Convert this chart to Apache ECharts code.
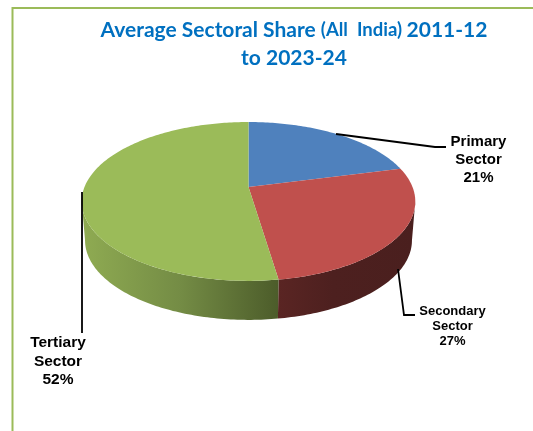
<!DOCTYPE html>
<html><head><meta charset="utf-8">
<style>html,body{margin:0;padding:0;background:#fff}#c{width:533px;height:431px}</style>
<script src="https://cdn.jsdelivr.net/npm/echarts@6/dist/echarts.min.js"></script>
</head><body><div id="c"></div>
<script>
const categories = ['Primary Sector', 'Secondary Sector', 'Tertiary Sector'];
const shares = [21.0, 26.6, 52.4];
const topColors = ['#4f81bd', '#c0504d', '#9bbb59'];
const wallStops = [
  [[0, '#3a5a80'], [1, '#2a4060']],
  [[0, '#5a2523'], [0.4, '#4d201f'], [1, '#4a1f1e']],
  [[0, '#8fab52'], [0.5, '#748c45'], [1, '#4c5c2a']]
];
const labelLayout = [
  {x: 478.5, y: 160, size: 15, line: 18, lead: [[336, 134], [435, 147], [446, 147]]},
  {x: 452.5, y: 326, size: 13, line: 15, lead: [[398, 269], [404, 315], [415, 315]]},
  {x: 58, y: 361.5, size: 15.5, line: 18.5, lead: [[82, 192], [82, 333]]}
];
const pie = {cx: 248.5, cy: 187, a: 164, b: 76.8, k: 0.182, depth: 39, shrink: 0.98};

function project(deg, bottom) {
  const t = deg * Math.PI / 180, X = Math.sin(t), Y = -Math.cos(t);
  const s = 1 / (1 - pie.k * Y);
  const f = bottom ? pie.shrink : 1;
  return [pie.cx + pie.a * X * s * f, pie.cy + pie.b * Y * s + (bottom ? pie.depth : 0)];
}
const total = shares.reduce((p, v) => p + v, 0);
function range(i) {
  let before = 0;
  for (let j = 0; j < i; j++) before += shares[j];
  return [before / total * 360, (before + shares[i]) / total * 360];
}
function arc(a0, a1, bottom) {
  const pts = [], n = Math.max(2, Math.ceil(Math.abs(a1 - a0)));
  for (let i = 0; i <= n; i++) pts.push(project(a0 + (a1 - a0) * i / n, bottom));
  return pts;
}
const tangent = Math.acos(-pie.k) * 180 / Math.PI;

function renderWall(params, api) {
  const i = params.dataIndex;
  const [r0, r1] = range(i);
  const a0 = Math.max(r0, tangent), a1 = Math.min(r1, 360 - tangent);
  if (a1 <= a0) return {type: 'group', children: []};
  const pts = arc(a0, a1, false).concat(arc(a1, a0, true));
  const xs = pts.map(p => p[0]);
  const x0 = Math.min.apply(null, xs), x1 = Math.max.apply(null, xs);
  return {
    type: 'polygon',
    shape: {points: pts},
    style: {fill: new echarts.graphic.LinearGradient(x0, 0, x1, 0,
      wallStops[i].map(s => ({offset: s[0], color: s[1]})), true)}
  };
}
function renderTop(params, api) {
  const i = params.dataIndex;
  const [a0, a1] = range(i);
  return {
    type: 'polygon',
    shape: {points: [[pie.cx, pie.cy]].concat(arc(a0, a1, false))},
    style: {fill: topColors[i]}
  };
}
function renderLabel(params, api) {
  const i = params.dataIndex, l = labelLayout[i];
  const words = categories[i].split(' ');
  return {
    type: 'group',
    children: [
      {type: 'polyline', shape: {points: l.lead}, style: {stroke: '#000', lineWidth: 1.8, fill: null}},
      {type: 'text', x: l.x, y: l.y, style: {
        text: words[0] + '\n' + words[1] + '\n' + Math.round(api.value(0)) + '%',
        fill: '#000', align: 'center', verticalAlign: 'middle',
        font: 'bold ' + l.size + 'px "Liberation Sans"', lineHeight: l.line
      }}
    ]
  };
}
const chart = echarts.init(document.getElementById('c'), null, {renderer: 'canvas'});
chart.setOption({
  animation: false,
  backgroundColor: '#fff',
  title: {
    text: '{a|Average Sectoral Share }{b|(All  India) }{a|2011-12}\n{a|to 2023-24}',
    left: 289, top: 11, textAlign: 'center',
    textStyle: {
      rich: {
        a: {fontFamily: 'Lato', fontWeight: 'bold', fontSize: 21, color: '#0070c0', lineHeight: 28},
        b: {fontFamily: 'Lato', fontWeight: 'bold', fontSize: 18.5, color: '#0070c0', lineHeight: 28}
      }
    }
  },
  graphic: [{
    type: 'polyline', z: 0,
    shape: {points: [[533, 8], [12.5, 8], [12.5, 431]]},
    style: {stroke: '#9bbb59', lineWidth: 2, fill: null}
  }],
  series: [
    {type: 'custom', coordinateSystem: 'none', z: 2, renderItem: renderWall, data: shares},
    {type: 'custom', coordinateSystem: 'none', z: 3, renderItem: renderTop, data: shares},
    {type: 'custom', coordinateSystem: 'none', z: 4, renderItem: renderLabel, data: shares}
  ]
});
</script></body></html>
